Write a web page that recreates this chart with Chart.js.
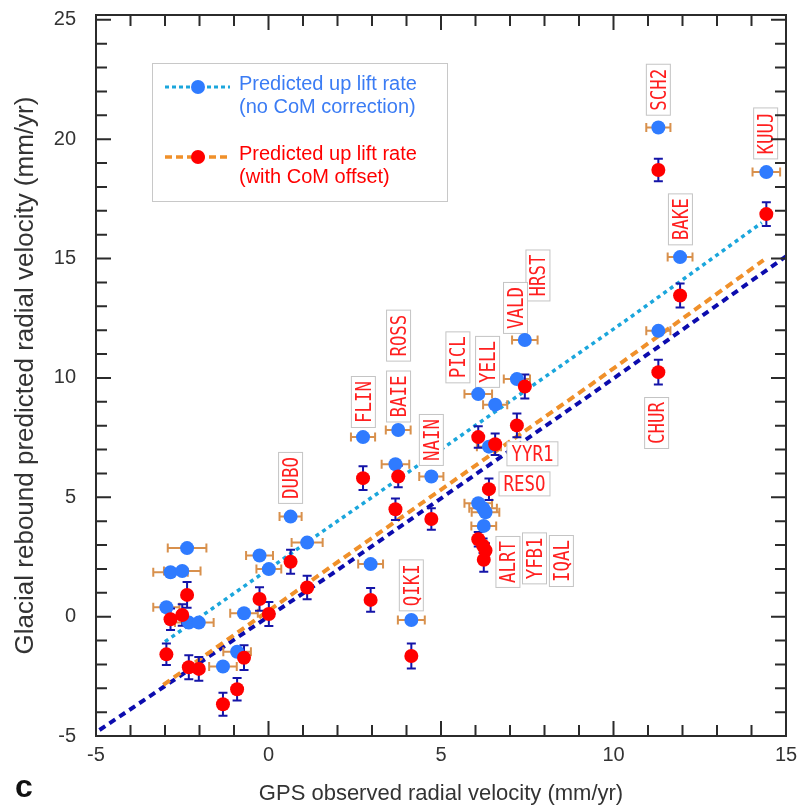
<!DOCTYPE html>
<html>
<head>
<meta charset="utf-8">
<title>Glacial rebound vs GPS radial velocity</title>
<script src="https://cdn.jsdelivr.net/npm/chart.js@4.4.0/dist/chart.umd.min.js"></script>
<style>
  html, body { margin: 0; padding: 0; background: #fff; }
</style>
</head>
<body>
<canvas id="chart" width="802" height="806"></canvas>
<script>
// GPS observed radial velocity (mm/yr) with its error (half width)
const gpsObs = [-2.36, -2.84, -2.50, -2.96, -2.31, -2.02, -0.71, -0.26, 0.01, 1.12, 0.64, -0.91, -1.32,
                2.74, 3.76, 3.68, 4.72, 2.96, 4.14, 6.08, 6.57, 6.39, 7.20, 7.43,
                6.08, 6.22, 6.29, 6.24, 11.30, 14.43, 11.93, 11.30];
const gpsErr = [0.56, 0.50, 0.53, 0.38, 0.40, 0.43, 0.40, 0.39, 0.36, 0.45, 0.32, 0.40, 0.40,
                0.35, 0.36, 0.40, 0.35, 0.36, 0.39, 0.40, 0.35, 0.35, 0.38, 0.37,
                0.40, 0.40, 0.40, 0.36, 0.35, 0.40, 0.36, 0.35];
// predicted uplift, no CoM correction (blue)
const predNoCoM = [2.87, 1.86, 1.91, 0.39, -0.25, -0.25, 0.14, 2.56, 1.99, 3.10, 4.19, -1.47, -2.09,
                   7.52, 7.82, 6.38, 5.87, 2.20, -0.14, 9.32, 8.88, 7.12, 9.95, 11.59,
                   4.75, 4.54, 4.37, 3.80, 20.49, 18.62, 15.06, 11.97];
// predicted uplift, with CoM offset (red) and model error
const predCoM = [0.91, -0.11, 0.07, -1.58, -2.12, -2.19, -1.72, 0.74, 0.11, 1.22, 2.30, -3.04, -3.67,
                 5.80, 5.87, 4.50, 4.09, 0.70, -1.65, 7.52, 7.22, 5.34, 8.01, 9.64,
                 3.24, 2.97, 2.77, 2.38, 18.71, 16.86, 13.45, 10.24];
const predErr = [0.54, 0.45, 0.45, 0.45, 0.50, 0.50, 0.52, 0.49, 0.50, 0.49, 0.50, 0.47, 0.48,
                 0.50, 0.45, 0.45, 0.45, 0.50, 0.52, 0.45, 0.45, 0.45, 0.50, 0.50,
                 0.30, 0.30, 0.30, 0.50, 0.47, 0.50, 0.50, 0.52];

// trend curves
const trendNoCoMX = [-3.0, 1.1, 5.05, 10.5, 14.3];
const trendNoCoMY = [-1.05, 3.1, 7.05, 12.55, 16.5];
const trendCoMX = [-3.05, 1.8, 9.33, 14.35];
const trendCoMY = [-2.86, 2.08, 9.7, 14.93];
const oneToOneX = [-4.9, 1.8, 9.33, 15.1];
const oneToOneY = [-4.75, 1.75, 9.29, 15.19];

const xTicks = [-5, 0, 5, 10, 15];
const yTicks = [-5, 0, 5, 10, 15, 20, 25];

// station tags
const stationNames = ['SCH2', 'KUUJ', 'BAKE', 'CHUR', 'HRST', 'VALD', 'PICL', 'YELL', 'ROSS', 'BAIE',
                      'FLIN', 'NAIN', 'DUBO', 'YYR1', 'RESO', 'ALRT', 'YFB1', 'IQAL', 'QIKI'];
const tagX = [11.3, 14.41, 11.94, 11.25, 7.81, 7.16, 5.49, 6.35, 3.77, 3.77,
              2.75, 4.72, 0.64, 7.65, 7.42, 6.94, 7.71, 8.49, 4.14];
const tagY = [22.07, 20.24, 16.64, 8.11, 14.29, 12.93, 10.86, 10.67, 11.77, 9.22,
              8.99, 7.40, 5.81, 6.82, 5.56, 2.29, 2.44, 2.33, 1.31];
const tagFlat = ['YYR1', 'RESO'];

const BLUE = '#2f7bff';
const RED = '#ff0000';
const ORANGE_BAR = '#d8904c';
const NAVY_BAR = '#1414a8';
const FONT = 'Liberation Sans, Arial, sans-serif';

const toXY = (xs, ys) => xs.map((v, i) => ({ x: v, y: ys[i] }));

function drawTags(chart) {
    const { ctx, scales: { x, y } } = chart;
    ctx.save();
    ctx.font = '21px "DejaVu Sans Mono", monospace';
    ctx.textAlign = 'center';
    ctx.textBaseline = 'alphabetic';
    stationNames.forEach((name, i) => {
        const cx = x.getPixelForValue(tagX[i]);
        const cy = y.getPixelForValue(tagY[i]);
        const w = ctx.measureText(name).width * 0.83 + 9;
        const h = 24;
        ctx.save();
        ctx.translate(cx, cy);
        if (!tagFlat.includes(name)) ctx.rotate(-Math.PI / 2);
        ctx.fillStyle = '#fff';
        ctx.fillRect(-w / 2, -h / 2, w, h);
        ctx.strokeStyle = '#c4c4c4';
        ctx.lineWidth = 1;
        ctx.strokeRect(-w / 2, -h / 2, w, h);
        ctx.scale(0.83, 1);
        ctx.fillStyle = '#ff1f1f';
        ctx.fillText(name, 0, 7.5);
        ctx.restore();
    });
    ctx.restore();
}

function drawErrorBars(chart) {
    const { ctx, scales: { x, y } } = chart;
    const cap = 4.5;
    ctx.save();
    ctx.lineWidth = 2;
    // horizontal GPS error on the blue markers
    ctx.strokeStyle = ORANGE_BAR;
    gpsObs.forEach((g, i) => {
        const py = y.getPixelForValue(predNoCoM[i]);
        const x0 = x.getPixelForValue(g - gpsErr[i]);
        const x1 = x.getPixelForValue(g + gpsErr[i]);
        ctx.beginPath();
        ctx.moveTo(x0, py); ctx.lineTo(x1, py);
        ctx.moveTo(x0, py - cap); ctx.lineTo(x0, py + cap);
        ctx.moveTo(x1, py - cap); ctx.lineTo(x1, py + cap);
        ctx.stroke();
    });
    // vertical model error on the red markers
    ctx.strokeStyle = NAVY_BAR;
    gpsObs.forEach((g, i) => {
        const px = x.getPixelForValue(g);
        const y0 = y.getPixelForValue(predCoM[i] - predErr[i]);
        const y1 = y.getPixelForValue(predCoM[i] + predErr[i]);
        ctx.beginPath();
        ctx.moveTo(px, y0); ctx.lineTo(px, y1);
        ctx.moveTo(px - cap, y0); ctx.lineTo(px + cap, y0);
        ctx.moveTo(px - cap, y1); ctx.lineTo(px + cap, y1);
        ctx.stroke();
    });
    ctx.restore();
}

function drawFrame(chart) {
    const { ctx, chartArea: a, scales: { x, y } } = chart;
    ctx.save();
    ctx.strokeStyle = '#2b2b2b';
    ctx.lineWidth = 2;
    ctx.beginPath();
    for (let v = -5; v <= 15; v++) {
        const px = x.getPixelForValue(v);
        const len = v % 5 === 0 ? 15 : 11;
        ctx.moveTo(px, a.top); ctx.lineTo(px, a.top + len);
        ctx.moveTo(px, a.bottom); ctx.lineTo(px, a.bottom - len);
    }
    for (let v = -5; v <= 25; v++) {
        const py = y.getPixelForValue(v);
        const len = v % 5 === 0 ? 15 : 11;
        ctx.moveTo(a.left, py); ctx.lineTo(a.left + len, py);
        ctx.moveTo(a.right, py); ctx.lineTo(a.right - len, py);
    }
    ctx.stroke();
    ctx.strokeRect(a.left, a.top, a.right - a.left, a.bottom - a.top);

    // panel letter
    ctx.fillStyle = '#111';
    ctx.font = 'bold 32px ' + FONT;
    ctx.textAlign = 'center';
    ctx.textBaseline = 'alphabetic';
    ctx.fillText('c', 24, 797);
    ctx.restore();
}

function drawLegend(chart) {
    const { ctx, chartArea: a } = chart;
    const bx = a.left + 56, by = a.top + 48, bw = 295, bh = 138;
    ctx.save();
    ctx.fillStyle = '#fff';
    ctx.fillRect(bx, by, bw, bh);
    ctx.strokeStyle = '#c8c8c8';
    ctx.lineWidth = 1;
    ctx.strokeRect(bx + 0.5, by + 0.5, bw, bh);
    const rows = [
        { line: '#1ba6dc', dash: [4, 3], width: 3, marker: BLUE, text: '#3b7cf4', y: by + 24,
          lines: ['Predicted up lift rate', '(no CoM correction)'] },
        { line: '#f0902a', dash: [7, 4], width: 3.5, marker: RED, text: '#ff0000', y: by + 94,
          lines: ['Predicted up lift rate', '(with CoM offset)'] }
    ];
    rows.forEach(r => {
        ctx.setLineDash(r.dash);
        ctx.strokeStyle = r.line;
        ctx.lineWidth = r.width;
        ctx.beginPath();
        ctx.moveTo(bx + 13, r.y); ctx.lineTo(bx + 78, r.y);
        ctx.stroke();
        ctx.setLineDash([]);
        ctx.fillStyle = r.marker;
        ctx.beginPath();
        ctx.arc(bx + 46, r.y, 7, 0, Math.PI * 2);
        ctx.fill();
        ctx.fillStyle = r.text;
        ctx.font = '20px ' + FONT;
        ctx.textAlign = 'left';
        ctx.textBaseline = 'middle';
        ctx.fillText(r.lines[0], bx + 87, r.y - 3);
        ctx.fillText(r.lines[1], bx + 87, r.y + 20);
    });
    ctx.restore();
}

const overlay = {
    id: 'overlay',
    beforeDatasetDraw(chart, args) {
        // tags and error bars go above the trend lines, below the markers
        if (args.index === 3) {
            drawTags(chart);
            drawErrorBars(chart);
        }
    },
    afterDraw(chart) {
        drawFrame(chart);
        drawLegend(chart);
    }
};

// keep the plot frame fixed: no extra room reserved for edge tick labels
function fixBox(size, key) {
    return s => {
        s[key] = size;
        s.paddingLeft = 0; s.paddingRight = 0;
        s.paddingTop = 0; s.paddingBottom = 0;
    };
}

new Chart(document.getElementById('chart').getContext('2d'), {
    type: 'scatter',
    data: {
        datasets: [
            {
                label: '1:1',
                data: toXY(oneToOneX, oneToOneY),
                showLine: true, pointRadius: 0,
                borderColor: '#0c0cae', borderWidth: 4, borderDash: [7, 5],
                order: 5
            },
            {
                label: 'Trend (with CoM offset)',
                data: toXY(trendCoMX, trendCoMY),
                showLine: true, pointRadius: 0,
                borderColor: '#f0902a', borderWidth: 4, borderDash: [8, 5],
                order: 4
            },
            {
                label: 'Trend (no CoM correction)',
                data: toXY(trendNoCoMX, trendNoCoMY),
                showLine: true, pointRadius: 0,
                borderColor: '#1ba6dc', borderWidth: 3.5, borderDash: [4, 4],
                order: 3
            },
            {
                label: 'Predicted uplift rate (no CoM correction)',
                data: toXY(gpsObs, predNoCoM),
                pointRadius: 7, pointBackgroundColor: BLUE, pointBorderWidth: 0,
                order: 2
            },
            {
                label: 'Predicted uplift rate (with CoM offset)',
                data: toXY(gpsObs, predCoM),
                pointRadius: 7, pointBackgroundColor: RED, pointBorderWidth: 0,
                order: 1
            }
        ]
    },
    options: {
        responsive: false,
        animation: false,
        layout: { padding: { top: 15, right: 16, left: 0, bottom: 0 } },
        plugins: { legend: { display: false }, tooltip: { enabled: false } },
        scales: {
            x: {
                type: 'linear', min: -5, max: 15,
                grid: { display: false }, border: { display: false },
                afterBuildTicks: s => { s.ticks = xTicks.map(v => ({ value: v })); },
                afterFit: fixBox(70, 'height'),
                ticks: { padding: -1, color: '#333', maxRotation: 0, font: { family: FONT, size: 20 } },
                title: {
                    display: true, text: 'GPS observed radial velocity (mm/yr)', color: '#333',
                    font: { family: FONT, size: 22 }, padding: { top: 0, bottom: -1 }
                }
            },
            y: {
                type: 'linear', min: -5, max: 25.2,
                grid: { display: false }, border: { display: false },
                afterBuildTicks: s => { s.ticks = yTicks.map(v => ({ value: v })); },
                afterFit: fixBox(96, 'width'),
                ticks: { padding: 12, color: '#333', font: { family: FONT, size: 20 } },
                title: {
                    display: true, text: 'Glacial rebound predicted radial velocity (mm/yr)', color: '#333',
                    font: { family: FONT, size: 26 }, padding: { top: 10, bottom: 0 }
                }
            }
        }
    },
    plugins: [overlay]
});
</script>
</body>
</html>
